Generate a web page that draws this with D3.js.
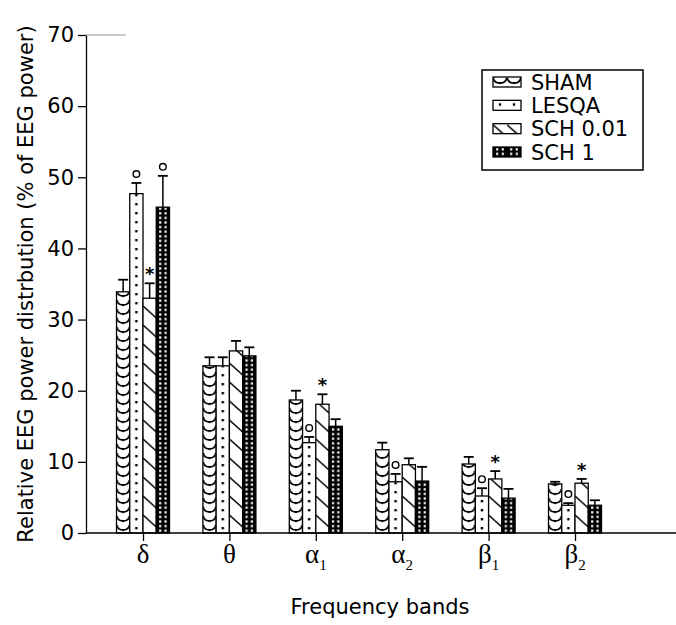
<!DOCTYPE html>
<html>
<head>
<meta charset="utf-8">
<script src="https://cdn.jsdelivr.net/npm/d3@7"></script>
<style>
  html, body { margin: 0; padding: 0; background: #fff; }
  svg { display: block; }
</style>
</head>
<body>
<svg id="chart" width="676" height="625"></svg>
<script>
// ---- data ----
const bandSymbols = ["δ", "θ", "α", "α", "β", "β"];
const bandSubs = ["", "", "1", "2", "1", "2"];
const bands = ["delta", "theta", "alpha1", "alpha2", "beta1", "beta2"];
const seriesNames = ["SHAM", "LESQA", "SCH 0.01", "SCH 1"];

const sham     = [33.9, 23.5, 18.7, 11.7, 9.7, 6.9];
const shamErr  = [1.7, 1.2, 1.3, 1.0, 1.0, 0.3];
const lesqa    = [47.7, 23.5, 12.7, 7.2, 5.2, 3.9];
const lesqaErr = [1.5, 1.2, 0.8, 1.1, 1.1, 0.3];
const sch001   = [33.0, 25.6, 18.1, 9.6, 7.6, 7.0];
const sch001Err= [2.1, 1.4, 1.4, 0.9, 1.1, 0.6];
const sch1     = [45.8, 24.9, 15.0, 7.3, 4.9, 3.9];
const sch1Err  = [4.4, 1.2, 1.0, 2.0, 1.3, 0.7];

const shamMarks   = ["", "", "", "", "", ""];
const lesqaMarks  = ["o", "", "o", "o", "o", "o"];
const sch001Marks = ["*", "", "*", "", "*", "*"];
const sch1Marks   = ["o", "", "", "", "", ""];

const yTicks = [0, 10, 20, 30, 40, 50, 60, 70];
const yTitle = "Relative EEG power distrbution (% of EEG power)";
const xTitle = "Frequency bands";

// table built from the arrays
const valueSets = [sham, lesqa, sch001, sch1];
const errSets = [shamErr, lesqaErr, sch001Err, sch1Err];
const markSets = [shamMarks, lesqaMarks, sch001Marks, sch1Marks];
const rows = [];
bands.forEach((b, bi) => seriesNames.forEach((s, si) => rows.push({
  band: b, bi, series: s, si,
  value: valueSets[si][bi], err: errSets[si][bi], mark: markSets[si][bi]
})));

// ---- layout ----
const svg = d3.select("#chart");
const sansFont = "'DejaVu Sans', 'Liberation Sans', Arial, sans-serif";
const serifFont = "'Liberation Serif', 'DejaVu Serif', 'Times New Roman', serif";

const y = d3.scaleLinear().domain([0, 70]).range([533, 35]);
const x0 = d3.scalePoint().domain(bands).range([143, 575]);
const x1 = d3.scaleBand().domain(seriesNames).range([-26.5, 26.5]).padding(0);
const bw = x1.bandwidth();
const axisLeftX = 86, axisRightX = 676;

const defs = svg.append("defs");

function buildPattern(id, si, px, py, w) {
  const p = defs.append("pattern").attr("id", id)
    .attr("patternUnits", "userSpaceOnUse")
    .attr("x", px).attr("y", py).attr("width", w);
  if (si === 0) {
    const h = 9;
    p.attr("height", h);
    p.append("rect").attr("width", w).attr("height", h).attr("fill", "#fff");
    p.append("path")
      .attr("d", `M0.3,0.8 C${w*0.1},${h*0.85} ${w*0.9},${h*0.85} ${w-0.3},0.8`)
      .attr("fill", "none").attr("stroke", "#000").attr("stroke-width", 1.7);
    p.append("rect").attr("x", w/2 - 0.8).attr("y", h*0.55).attr("width", 1.6).attr("height", 2.2).attr("fill", "#000");
  } else if (si === 1) {
    const h = 9;
    p.attr("height", h);
    p.append("rect").attr("width", w).attr("height", h).attr("fill", "#fff");
    p.append("rect").attr("x", w/2 - 1.2).attr("y", 3).attr("width", 2.4).attr("height", 2.4).attr("fill", "#000");
  } else if (si === 2) {
    const h = 19;
    p.attr("height", h);
    p.append("rect").attr("width", w).attr("height", h).attr("fill", "#fff");
    p.append("line").attr("x1", 0).attr("y1", 1).attr("x2", w).attr("y2", 1 + w*0.9)
      .attr("stroke", "#000").attr("stroke-width", 1.5);
  } else {
    const h = 4.6;
    p.attr("height", h);
    p.append("rect").attr("width", w).attr("height", h).attr("fill", "#000");
    [0.3, 0.7].forEach(f => p.append("rect")
      .attr("x", w*f - 1.1).attr("y", 1.2).attr("width", 2.2).attr("height", 2.2).attr("fill", "#fff"));
  }
  return `url(#${id})`;
}

// ---- bars ----
const g = svg.append("g");
const barG = g.selectAll("g.bar").data(rows).join("g").attr("class", "bar");
barG.each(function(d) {
  const sel = d3.select(this);
  const bx = x0(d.band) + x1(d.series);
  const fill = buildPattern(`p${d.bi}_${d.si}`, d.si, bx, y(0), bw);
  sel.append("rect")
    .attr("x", bx).attr("y", y(d.value))
    .attr("width", bw).attr("height", y(0) - y(d.value))
    .attr("fill", fill).attr("stroke", "#000").attr("stroke-width", 1.3);
  const cx = bx + bw / 2;
  const top = y(d.value + d.err);
  sel.append("line").attr("x1", cx).attr("x2", cx).attr("y1", y(d.value)).attr("y2", top)
    .attr("stroke", "#000").attr("stroke-width", 1.5);
  sel.append("line").attr("x1", cx - 5).attr("x2", cx + 5).attr("y1", top).attr("y2", top)
    .attr("stroke", "#000").attr("stroke-width", 1.8);
  if (d.mark === "o") {
    sel.append("circle").attr("cx", cx).attr("cy", top - 9).attr("r", 3.3)
      .attr("fill", "none").attr("stroke", "#000").attr("stroke-width", 1.4);
  } else if (d.mark === "*") {
    sel.append("text").attr("x", cx).attr("y", top - 13 + 10)
      .attr("text-anchor", "middle").attr("font-family", sansFont)
      .attr("font-size", 18).attr("font-weight", "bold").text("*");
  }
});

// ---- axes ----
const yAxis = d3.axisLeft(y).tickValues(yTicks).tickSize(8).tickSizeOuter(0).tickPadding(4);
const yg = svg.append("g").attr("transform", `translate(${axisLeftX},0)`).call(yAxis);
yg.selectAll("text").attr("font-family", sansFont).attr("font-size", 21).attr("fill", "#000");
yg.selectAll("line, path").attr("stroke", "#000").attr("stroke-width", 1.3);
// short top rule at 70
svg.append("line").attr("x1", axisLeftX).attr("x2", axisLeftX + 40).attr("y1", y(70)).attr("y2", y(70))
  .attr("stroke", "#999").attr("stroke-width", 1);

const xAxis = d3.axisBottom(x0).tickSize(8).tickSizeOuter(0).tickFormat("");
const xg = svg.append("g").attr("transform", `translate(0,${y(0)})`).call(xAxis);
xg.select(".domain").remove();
xg.selectAll("line").attr("stroke", "#000").attr("stroke-width", 1.3);
svg.append("line").attr("x1", axisLeftX).attr("x2", axisRightX).attr("y1", y(0)).attr("y2", y(0))
  .attr("stroke", "#000").attr("stroke-width", 1.5);

// category labels
bands.forEach((b, i) => {
  const t = svg.append("text").attr("x", x0(b)).attr("y", y(0) + 30)
    .attr("text-anchor", "middle").attr("font-family", serifFont).attr("font-size", 27);
  t.append("tspan").text(bandSymbols[i]);
  if (bandSubs[i]) t.append("tspan").attr("font-size", 15).attr("dy", 7).text(bandSubs[i]);
});

// titles
svg.append("text").attr("x", 380).attr("y", 614).attr("text-anchor", "middle")
  .attr("font-family", sansFont).attr("font-size", 21).text(xTitle);
svg.append("text").attr("transform", `translate(33,284) rotate(-90)`)
  .attr("text-anchor", "middle").attr("font-family", sansFont).attr("font-size", 21).text(yTitle);

// ---- legend ----
const lg = svg.append("g");
lg.append("rect").attr("x", 482).attr("y", 70).attr("width", 161).attr("height", 100)
  .attr("fill", "#fff").attr("stroke", "#000").attr("stroke-width", 1.5);
const ly = d3.scalePoint().domain(seriesNames).range([82, 152]);
seriesNames.forEach((s, si) => {
  const sy = ly(s);
  const fill = buildPattern(`leg${si}`, si, 493, sy - 5, 14);
  lg.append("rect").attr("x", 493).attr("y", sy - 5).attr("width", 28).attr("height", 10)
    .attr("fill", fill).attr("stroke", "#000").attr("stroke-width", 1.3);
  lg.append("text").attr("x", 531).attr("y", sy + 7.5).attr("font-family", sansFont)
    .attr("font-size", 21).text(s);
});
</script>
</body>
</html>
